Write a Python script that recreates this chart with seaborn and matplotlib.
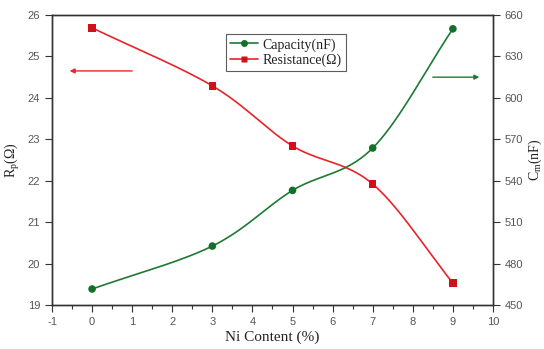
import numpy as np
import pandas as pd
import matplotlib
matplotlib.use("Agg")
import matplotlib.pyplot as plt
import seaborn as sns
from matplotlib.lines import Line2D

ni = [0, 3, 5, 7, 9]
capacity = [461.6, 492.7, 533.0, 563.7, 650.0]
resistance = [25.69, 24.29, 22.84, 21.92, 19.53]
xticks = list(range(-1, 11))
left_ticks = list(range(19, 27))
right_ticks = list(range(450, 661, 30))

sns.set_style("white")
plt.rcParams['font.family'] = ['Liberation Sans', 'DejaVu Sans']

def smooth(x, y, n=40):
    x = np.asarray(x, float); y = np.asarray(y, float)
    P = np.column_stack([x, y])
    P = np.vstack([2 * P[0] - P[1], P, 2 * P[-1] - P[-2]])
    out = []
    for i in range(1, len(P) - 2):
        p0, p1, p2, p3 = P[i - 1], P[i], P[i + 1], P[i + 2]
        t = np.linspace(0, 1, n, endpoint=(i == len(P) - 3))[:, None]
        seg = 0.5 * ((2 * p1) + (-p0 + p2) * t + (2 * p0 - 5 * p1 + 4 * p2 - p3) * t ** 2
                     + (-p0 + 3 * p1 - 3 * p2 + p3) * t ** 3)
        out.append(seg)
    out = np.vstack(out)
    return pd.DataFrame({"x": out[:, 0], "y": out[:, 1]})

fig = plt.figure(figsize=(5.44, 3.49), dpi=100)
ax = fig.add_axes([0.0956, 0.126, 0.8106, 0.831])
ax2 = ax.twinx()

red = "#e8242a"
green = "#1e7a32"
gray = "#555555"

sr = smooth(ni, resistance)
sns.lineplot(data=sr, x="x", y="y", ax=ax, color=red, lw=1.2, sort=False)
sns.scatterplot(x=ni, y=resistance, ax=ax, color="#d0101a", marker="s", s=28,
                edgecolor="none", zorder=5)
sc = smooth(ni, capacity)
sns.lineplot(data=sc, x="x", y="y", ax=ax2, color=green, lw=1.2, sort=False)
sns.scatterplot(x=ni, y=capacity, ax=ax2, color="#12702a", marker="o", s=30,
                edgecolor="none", zorder=5)

ax.set_xlim(-1, 10)
ax.set_ylim(19, 26)
ax2.set_ylim(450, 660)
ax.set_xticks(xticks)
ax.set_xticks(np.arange(-0.5, 10, 1), minor=True)
ax.set_yticks(left_ticks)
ax2.set_yticks(right_ticks)
ax.set_xticklabels([str(v) for v in xticks])

for a in (ax, ax2):
    for s in a.spines.values():
        s.set_color("#333333")
        s.set_linewidth(1.0)
ax.tick_params(axis="both", which="major", direction="out", length=5, width=0.8,
               color="#333333", labelsize=8, labelcolor=gray, bottom=True, left=True)
ax.tick_params(axis="x", which="minor", direction="out", length=3, width=0.8,
               color="#333333", bottom=True)
ax2.tick_params(axis="y", direction="out", length=5, width=0.8, color="#333333",
                labelsize=8, labelcolor=gray, right=True)

serif = ['Liberation Serif', 'DejaVu Serif']
ax.set_xlabel("Ni Content (%)", family=serif, fontsize=11, color="#222222", labelpad=3)
ax.set_ylabel(r"R$_\mathregular{p}$(Ω)", family=serif, fontsize=10, color="#222222", labelpad=4)
ax2.set_ylabel(r"C$_\mathregular{m}$(nF)", family=serif, fontsize=10, color="#222222",
               rotation=90, labelpad=2)

ax.annotate("", xy=(-0.63, 24.65), xytext=(1.07, 24.65),
            arrowprops=dict(arrowstyle="-|>", color=red, lw=1.0, mutation_scale=7))
ax.annotate("", xy=(9.73, 24.50), xytext=(8.43, 24.50),
            arrowprops=dict(arrowstyle="-|>", color=green, lw=1.0, mutation_scale=7))

handles = [Line2D([], [], color=green, marker="o", markersize=5, lw=1.2,
                  markerfacecolor="#12702a", markeredgecolor="none"),
           Line2D([], [], color=red, marker="s", markersize=5, lw=1.2,
                  markerfacecolor="#d0101a", markeredgecolor="none")]
leg = ax.legend(handles, ["Capacity(nF)", "Resistance(Ω)"], loc="upper left",
                bbox_to_anchor=(0.395, 0.935), frameon=True, fancybox=False,
                prop={"family": serif, "size": 10}, handlelength=2.0,
                handletextpad=0.3, borderpad=0.3, labelspacing=0.15,
                borderaxespad=0)
leg.get_frame().set_edgecolor("#333333")
leg.get_frame().set_linewidth(0.8)
for t in leg.get_texts():
    t.set_color("#222222")

fig.savefig("out.png", dpi=100)
